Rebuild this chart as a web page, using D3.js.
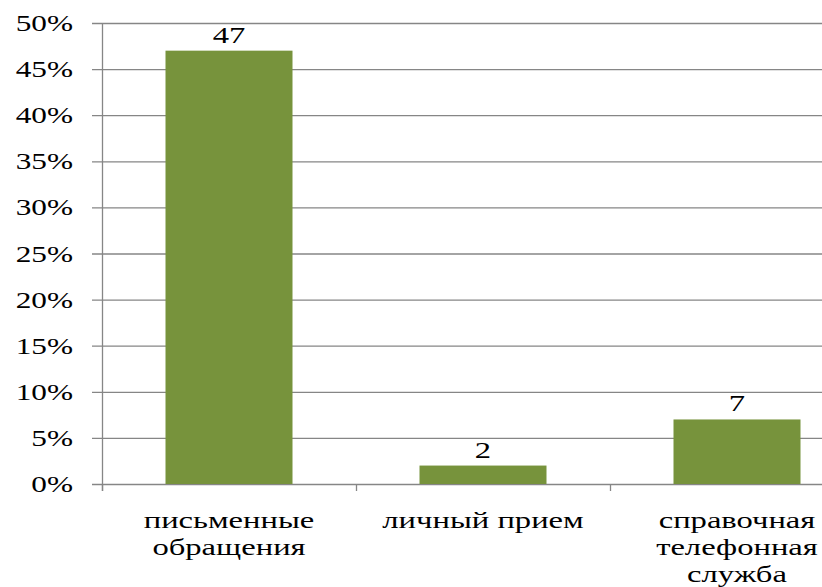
<!DOCTYPE html>
<html>
<head>
<meta charset="utf-8">
<script src="https://cdn.jsdelivr.net/npm/d3@7"></script>
</head>
<body style="margin:0">
<svg id="chart" width="822" height="587"></svg>
<script>
const categories = [
  ['письменные', 'обращения'],
  ['личный прием'],
  ['справочная', 'телефонная', 'служба']
]
const values = [47, 2, 7]
const yTicks = [0, 5, 10, 15, 20, 25, 30, 35, 40, 45, 50]

const font = '"Times New Roman"'
const stretch = 'scale(1.36, 1)'  // the original text is drawn wide

const dims = {
  width: 822,
  height: 587,
  left: 102,
  top: 23,
  bandWidth: 254,
  bottom: 484
}

const svg = d3.select('#chart')

const x = d3.scaleBand()
  .domain(d3.range(values.length))
  .range([dims.left, dims.left + dims.bandWidth * values.length])
  .paddingInner(0.5)
  .paddingOuter(0.25)

const y = d3.scaleLinear()
  .domain([0, 50])
  .range([dims.bottom, dims.top])

// gridlines
svg.selectAll('.grid')
  .data(yTicks)
  .enter().append('line')
  .attr('class', 'grid')
  .attr('x1', dims.left - 10)
  .attr('x2', dims.width)
  .attr('y1', d => y(d) + 0.5)
  .attr('y2', d => y(d) + 0.5)
  .attr('stroke', '#868686')
  .attr('stroke-width', 1.3)

// y axis line
svg.append('line')
  .attr('x1', dims.left + 0.5)
  .attr('x2', dims.left + 0.5)
  .attr('y1', y(50))
  .attr('y2', y(0) + 7)
  .attr('stroke', '#868686')
  .attr('stroke-width', 1.3)

// y tick labels
svg.selectAll('.ylab')
  .data(yTicks)
  .enter().append('text')
  .attr('class', 'ylab')
  .attr('transform', d => `translate(${dims.left - 29}, ${y(d) + 8}) ${stretch}`)
  .attr('text-anchor', 'end')
  .style('font-family', font)
  .style('font-size', '23px')
  .text(d => d + '%')

// x axis category ticks
const bounds = d3.range(values.length + 1).map(i => dims.left + dims.bandWidth * i)
svg.selectAll('.xtick')
  .data(bounds)
  .enter().append('line')
  .attr('class', 'xtick')
  .attr('x1', d => d + 0.5)
  .attr('x2', d => d + 0.5)
  .attr('y1', dims.bottom)
  .attr('y2', dims.bottom + 7)
  .attr('stroke', '#868686')
  .attr('stroke-width', 1.3)

// bars
svg.selectAll('rect')
  .data(values)
  .enter().append('rect')
  .attr('x', (d, i) => x(i))
  .attr('y', d => y(d))
  .attr('width', x.bandwidth())
  .attr('height', d => y(0) - y(d))
  .attr('fill', '#77933c')

// value labels
svg.selectAll('.val')
  .data(values)
  .enter().append('text')
  .attr('class', 'val')
  .attr('transform', (d, i) => `translate(${x(i) + x.bandwidth() / 2}, ${y(d) - 8}) ${stretch}`)
  .attr('text-anchor', 'middle')
  .style('font-family', font)
  .style('font-size', '24px')
  .text(d => d)

// category labels, one text per line
const lines = categories.flatMap((lns, i) => lns.map((t, j) => ({ i, j, t })))
svg.selectAll('.cat')
  .data(lines)
  .enter().append('text')
  .attr('class', 'cat')
  .attr('transform', d => `translate(${x(d.i) + x.bandwidth() / 2}, ${528 + d.j * 27}) ${stretch}`)
  .attr('text-anchor', 'middle')
  .style('font-family', font)
  .style('font-size', '24px')
  .text(d => d.t)
</script>
</body>
</html>
